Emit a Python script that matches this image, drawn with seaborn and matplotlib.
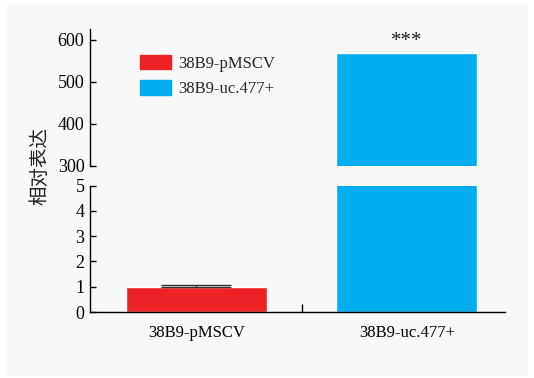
import numpy as np
import pandas as pd
import seaborn as sns
import matplotlib.pyplot as plt
from matplotlib.patches import Patch, Rectangle

# data
groups = ['38B9-pMSCV', '38B9-uc.477+']
expr = [1.0, 568.0]
err_up = [0.07, 0.0]
colors = ['#ED2227', '#00AEEF']

sns.set_theme(style='white')
plt.rcParams['font.family'] = ['Liberation Serif', 'DejaVu Serif']

df = pd.DataFrame({'group': groups, 'expr': expr})

fig = plt.figure(figsize=(5.34, 3.78), dpi=100)
fig.patches.append(Rectangle((7/534, 3/378), 520/534, 370/378, transform=fig.transFigure,
                             color='#f8f8f8', zorder=-1))

# broken y axis: two stacked axes
ax_top = fig.add_axes([0.1685, 0.5616, 0.777, 0.3617])
ax_bot = fig.add_axes([0.1685, 0.1746, 0.777, 0.3344])

for ax in (ax_top, ax_bot):
    sns.barplot(data=df, x='group', y='expr', hue='group', palette=colors, width=0.67,
                saturation=1, ax=ax, legend=False)
    ax.set_xlim(-0.506, 1.466)
    ax.set_facecolor('none')
    ax.set_xlabel('')
    ax.set_ylabel('')
    for s in ['top', 'right']:
        ax.spines[s].set_visible(False)
    for s in ['left', 'bottom']:
        ax.spines[s].set_color('black')
        ax.spines[s].set_linewidth(1.0)
    ax.tick_params(axis='y', direction='in', length=4, width=1, pad=4, labelsize=13,
                   colors='black', left=True)

# top part
ax_top.set_ylim(300, 626)
ax_top.set_yticks([300, 400, 500, 600])
ax_top.spines['bottom'].set_visible(False)
ax_top.set_xticks([])
ax_top.text(1, 573, '***', ha='center', va='bottom', fontsize=15, color='#222222')
handles = [Patch(color=c, label=g) for g, c in zip(groups, colors)]
ax_top.legend(handles=handles, loc='upper left', bbox_to_anchor=(140/534, (378-55)/378),
              bbox_transform=fig.transFigure, frameon=False, fontsize=12,
              handlelength=1.85, handleheight=0.95, labelspacing=0.5,
              handletextpad=0.45, borderpad=0, borderaxespad=0)

# bottom part
ax_bot.set_ylim(0, 5)
ax_bot.set_yticks([0, 1, 2, 3, 4, 5])
ax_bot.errorbar(0, expr[0], yerr=[[0], [err_up[0]]], fmt='none', ecolor='#333333',
                capsize=25, elinewidth=1, capthick=1)
ax_bot.set_xticks([0, 1])
ax_bot.set_xticklabels(groups)
ax_bot.set_xticks([0.5], minor=True)
ax_bot.tick_params(axis='x', which='major', length=0, pad=9, labelsize=12, colors='black')
ax_bot.tick_params(axis='x', which='minor', direction='in', length=6, width=1,
                   bottom=True, colors='black')

fig.text(40/534, (378-166)/378, '相对表达', rotation=90, ha='center', va='center',
         fontsize=14, family=['Noto Sans CJK SC', 'DejaVu Sans'], color='#222222')

fig.savefig('out.png', dpi=100, facecolor='white')
